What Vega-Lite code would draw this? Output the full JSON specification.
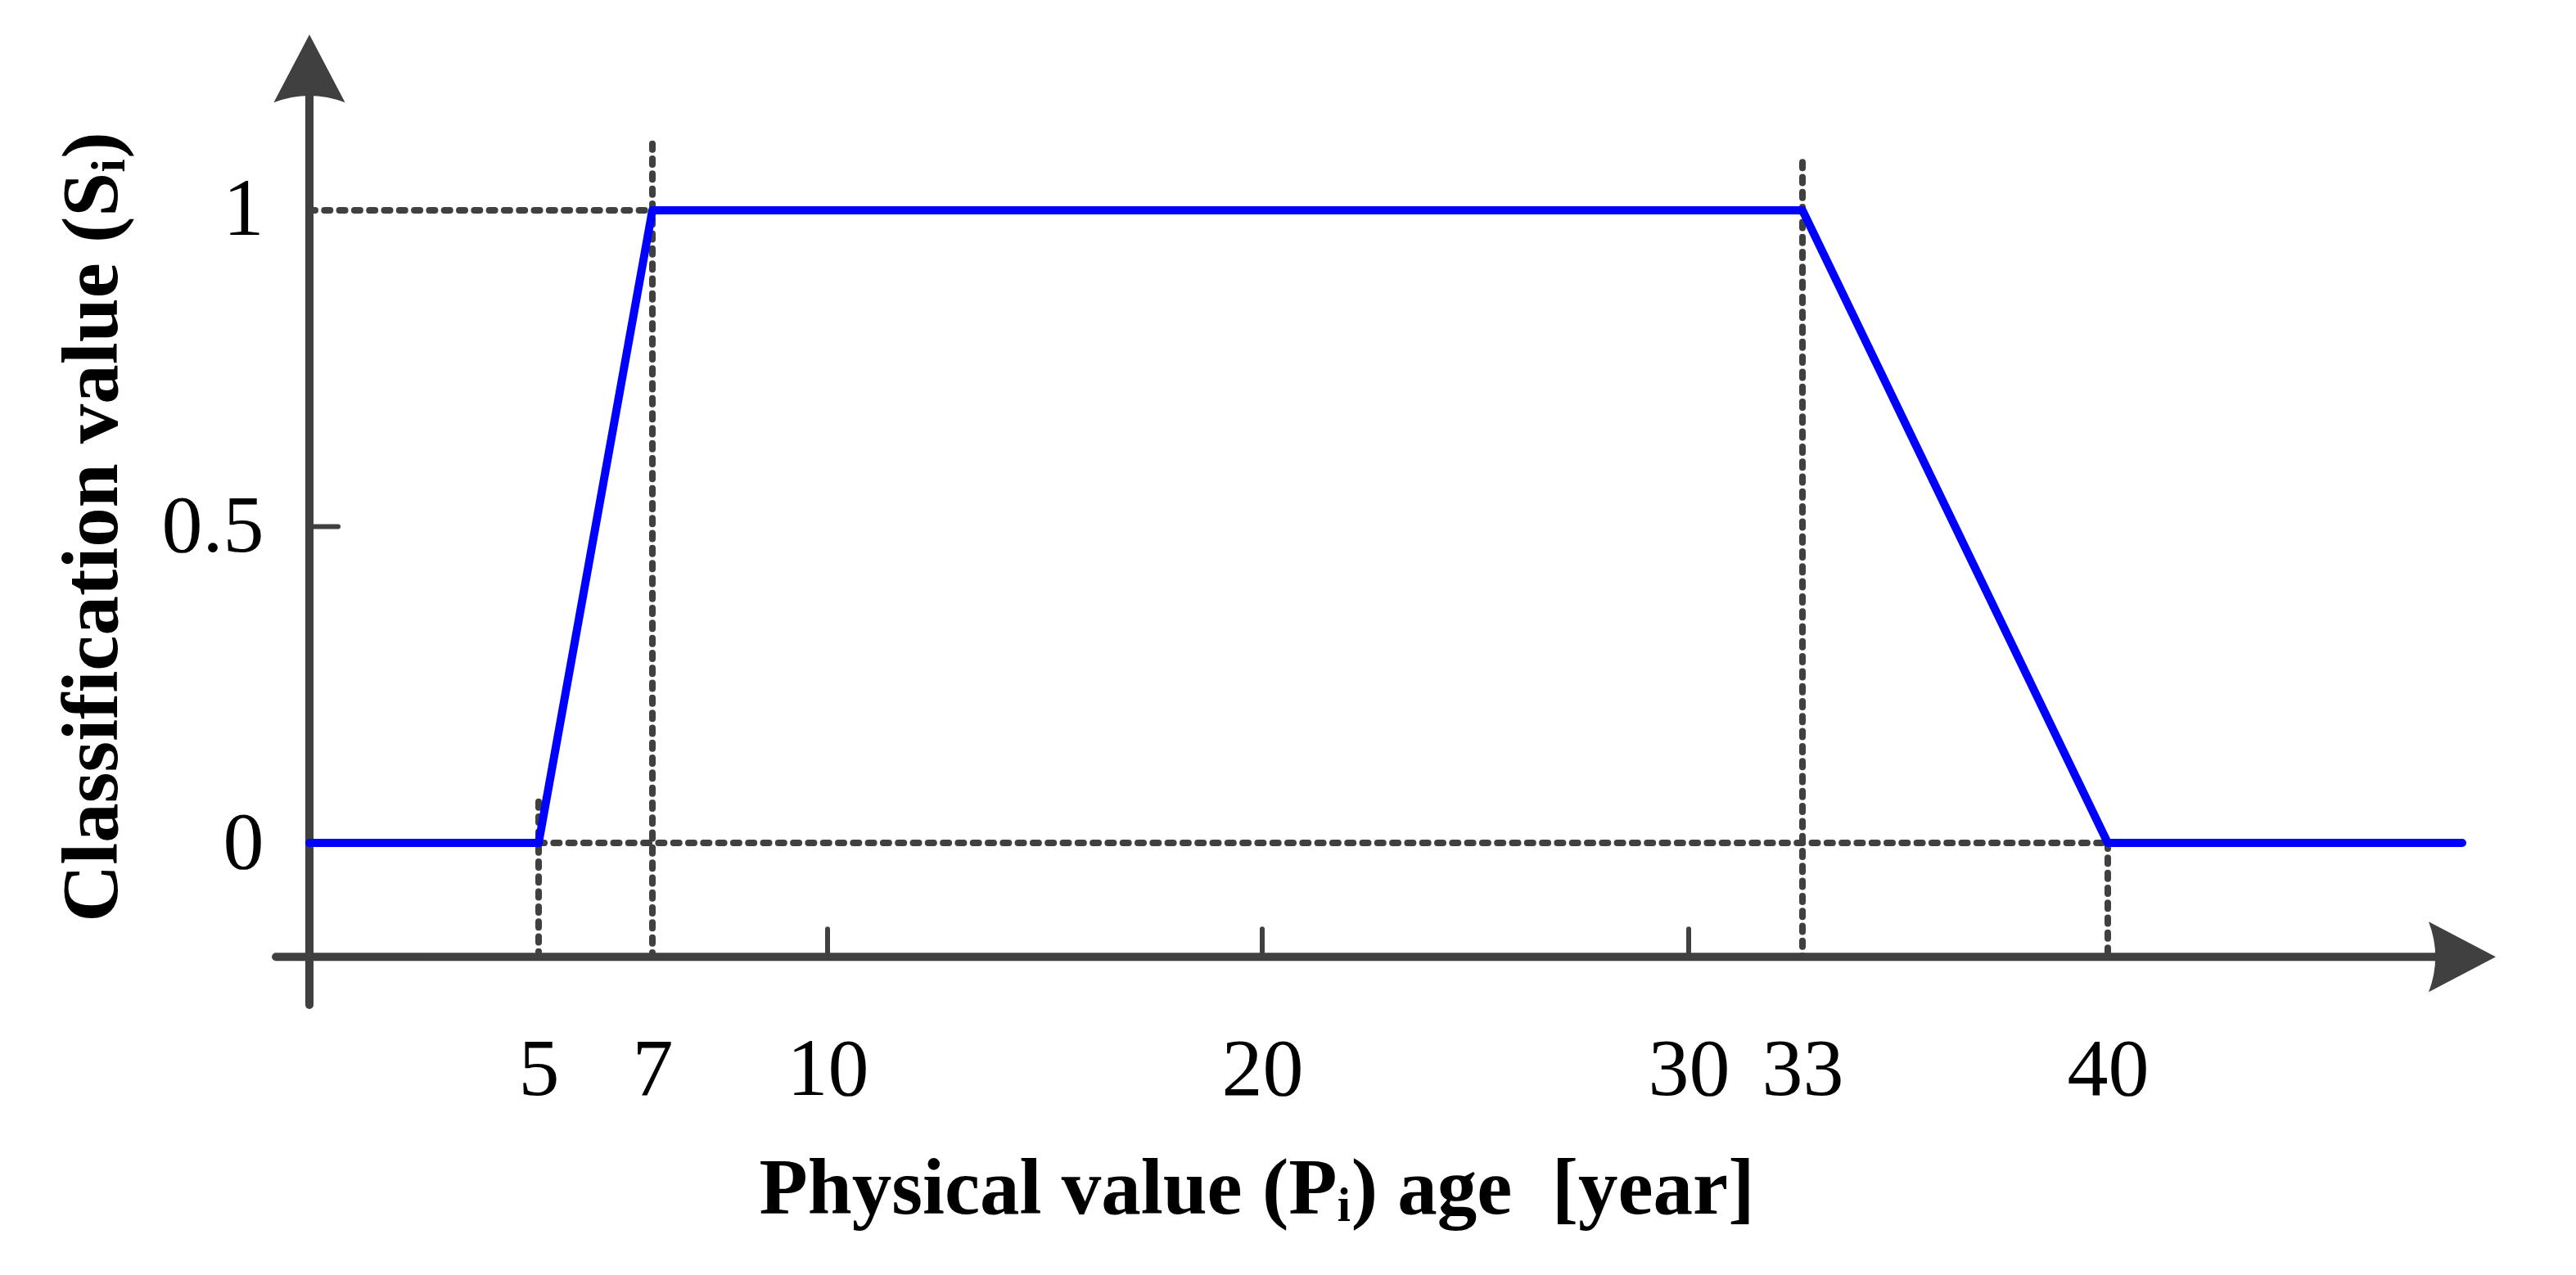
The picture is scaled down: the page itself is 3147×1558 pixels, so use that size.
{
  "$schema": "https://vega.github.io/schema/vega-lite/v6.json",
  "width": 2630,
  "height": 1237,
  "autosize": {"type": "none"},
  "padding": {"left": 378, "top": 25, "right": 139, "bottom": 296},
  "background": "white",
  "config": {"view": {"stroke": null}},
  "datasets": {
    "curve": [
      {"age": 0, "s": 0},
      {"age": 5, "s": 0},
      {"age": 7, "s": 1},
      {"age": 33, "s": 1},
      {"age": 40, "s": 0},
      {"age": 50, "s": 0}
    ],
    "guides": [
      {"age": 0, "s": 1, "age2": 33, "s2": 1},
      {"age": 5, "s": 0, "age2": 40, "s2": 0},
      {"age": 5, "s": 0.065, "age2": 5, "s2": -0.18},
      {"age": 7, "s": 1.105, "age2": 7, "s2": -0.18},
      {"age": 33, "s": 1.076, "age2": 33, "s2": -0.18},
      {"age": 40, "s": 0, "age2": 40, "s2": -0.18}
    ],
    "xticks": [{"age": 10}, {"age": 20}, {"age": 30}]
  },
  "layer": [
    {
      "data": {"name": "guides"},
      "mark": {"type": "rule", "color": "#404040", "strokeWidth": 8, "strokeDash": [7, 11.3], "strokeCap": "round"},
      "encoding": {
        "x": {
          "field": "age", "type": "quantitative",
          "scale": {"domain": [0, 5, 7, 10, 20, 30, 33, 40, 50], "range": [0, 280, 419, 633, 1164, 1685, 1824, 2197, 2630], "nice": false, "zero": false},
          "axis": {
            "values": [5, 7, 10, 20, 30, 33, 40],
            "format": "~g",
            "domain": false, "ticks": false, "tickSize": 0, "grid": false,
            "labelFont": "Liberation Serif", "labelFontSize": 100, "labelColor": "black",
            "labelPadding": -4, "labelFlush": false, "labelOverlap": false,
            "title": "Physical value (Pᵢ) age\u00a0 [year]",
            "titleFont": "Liberation Serif", "titleFontSize": 97, "titleFontWeight": "bold", "titleColor": "black",
            "titlePadding": 48, "titleX": 1157
          }
        },
        "x2": {"field": "age2"},
        "y": {
          "field": "s", "type": "quantitative",
          "scale": {"domain": [-0.3, 1.3], "nice": false, "zero": false},
          "axis": {
            "values": [0, 0.5, 1],
            "format": "~g",
            "domain": false, "ticks": false, "tickSize": 0, "grid": false,
            "labelFont": "Liberation Serif", "labelFontSize": 100, "labelColor": "black",
            "labelPadding": 56, "labelFlush": false, "labelOverlap": false,
            "title": "Classification value (Sᵢ)",
            "titleFont": "Liberation Serif", "titleFontSize": 97, "titleFontWeight": "bold", "titleColor": "black",
            "titlePadding": 35
          }
        },
        "y2": {"field": "s2"}
      }
    },
    {
      "data": {"values": [{}]},
      "mark": {"type": "rule", "color": "#404040", "strokeWidth": 10, "strokeCap": "round"},
      "encoding": {
        "x": {"datum": -0.73, "type": "quantitative"},
        "x2": {"datum": 50},
        "y": {"datum": -0.18, "type": "quantitative"}
      }
    },
    {
      "data": {"values": [{}]},
      "mark": {"type": "rule", "color": "#404040", "strokeWidth": 10, "strokeCap": "round"},
      "encoding": {
        "x": {"datum": 0, "type": "quantitative"},
        "y": {"datum": -0.256, "type": "quantitative"},
        "y2": {"datum": 1.2}
      }
    },
    {
      "data": {"name": "xticks"},
      "mark": {"type": "point", "shape": "M0,0L0,-1", "size": 4624, "filled": false, "stroke": "#404040", "strokeWidth": 6, "strokeCap": "round", "opacity": 1},
      "encoding": {
        "x": {"field": "age", "type": "quantitative", "title": "Physical value (Pᵢ) age\u00a0 [year]"},
        "y": {"datum": -0.18, "type": "quantitative"}
      }
    },
    {
      "data": {"values": [{}]},
      "mark": {"type": "point", "shape": "M0,0L1,0", "size": 4900, "filled": false, "stroke": "#404040", "strokeWidth": 6, "strokeCap": "round", "opacity": 1},
      "encoding": {
        "x": {"datum": 0, "type": "quantitative"},
        "y": {"datum": 0.5, "type": "quantitative"}
      }
    },
    {
      "data": {"values": [{}]},
      "mark": {"type": "point", "shape": "M1,0L-1,-1.05Q-0.6,0 -1,1.05Z", "size": 6724, "filled": true, "fill": "#404040", "strokeWidth": 0, "opacity": 1},
      "encoding": {
        "x": {"datum": 50, "type": "quantitative"},
        "y": {"datum": -0.18, "type": "quantitative"}
      }
    },
    {
      "data": {"values": [{}]},
      "mark": {"type": "point", "shape": "M0,-1L1.05,1Q0,0.6 -1.05,1Z", "size": 6889, "filled": true, "fill": "#404040", "strokeWidth": 0, "opacity": 1},
      "encoding": {
        "x": {"datum": 0, "type": "quantitative"},
        "y": {"datum": 1.224, "type": "quantitative"}
      }
    },
    {
      "data": {"name": "curve"},
      "mark": {"type": "line", "color": "#0000FF", "strokeWidth": 10, "strokeCap": "round", "strokeJoin": "round"},
      "encoding": {
        "x": {"field": "age", "type": "quantitative", "title": "Physical value (Pᵢ) age\u00a0 [year]"},
        "y": {"field": "s", "type": "quantitative", "title": "Classification value (Sᵢ)"}
      }
    }
  ]
}
